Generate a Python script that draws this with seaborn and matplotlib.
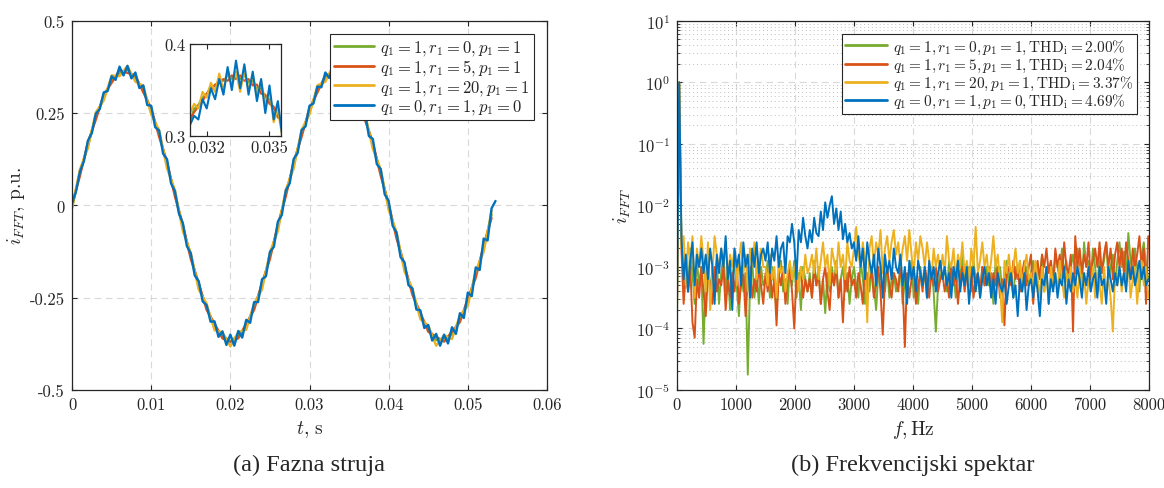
import numpy as np
import matplotlib
matplotlib.use("Agg")
import matplotlib.pyplot as plt
import seaborn as sns
from matplotlib.ticker import FixedLocator, FixedFormatter, LogLocator, NullFormatter

# --- (a) fazna struja, ocitano sa slike ---
dt_fine = 0.0005     # korak za plavu krivu
dt_coarse = 0.001    # korak za ostale krive

i_blue = [0.005, 0.038, 0.092, 0.120, 0.175, 0.196, 0.248, 0.261, 0.306, 0.310,
          0.350, 0.340, 0.376, 0.352, 0.378, 0.344, 0.360, 0.318, 0.325, 0.272,
          0.270, 0.212, 0.203, 0.140, 0.125, 0.060, 0.038, -0.022, -0.048, -0.110,
          -0.130, -0.190, -0.205, -0.260, -0.270, -0.315, -0.314, -0.356, -0.341, -0.378,
          -0.350, -0.380, -0.340, -0.358, -0.310, -0.318, -0.262, -0.262, -0.200, -0.192,
          -0.126, -0.112, -0.044, -0.026, 0.040, 0.060, 0.126, 0.142, 0.204, 0.214,
          0.270, 0.276, 0.322, 0.320, 0.360, 0.345, 0.380, 0.350, 0.376, 0.336,
          0.350, 0.302, 0.310, 0.252, 0.252, 0.188, 0.180, 0.112, 0.098, 0.030,
          0.012, -0.055, -0.074, -0.140, -0.154, -0.216, -0.225, -0.282, -0.284, -0.332,
          -0.324, -0.366, -0.348, -0.380, -0.350, -0.374, -0.330, -0.348, -0.292, -0.305,
          -0.236, -0.246, -0.168, -0.175, -0.090, -0.095, -0.008, 0.012]

i_green = [-0.008, 0.090, 0.162, 0.241, 0.291, 0.341, 0.357, 0.368, 0.343, 0.315,
           0.254, 0.195, 0.109, 0.033, -0.061, -0.136, -0.219, -0.274, -0.329, -0.351,
           -0.369, -0.351, -0.329, -0.274, -0.219, -0.136, -0.061, 0.033, 0.109, 0.195,
           0.254, 0.315, 0.343, 0.368, 0.357, 0.341, 0.291, 0.241, 0.162, 0.090,
           -0.004, -0.081, -0.170, -0.233, -0.299, -0.333, -0.365, -0.360, -0.351, -0.307,
           -0.262, -0.187, -0.117, -0.025]

i_red = [0.004, 0.080, 0.171, 0.232, 0.300, 0.332, 0.366, 0.359, 0.352, 0.306,
         0.263, 0.186, 0.118, 0.024, -0.052, -0.145, -0.210, -0.283, -0.320, -0.360,
         -0.370, -0.360, -0.320, -0.283, -0.210, -0.145, -0.052, 0.024, 0.118, 0.186,
         0.263, 0.306, 0.352, 0.359, 0.366, 0.332, 0.300, 0.232, 0.171, 0.080,
         0.005, -0.090, -0.161, -0.242, -0.290, -0.342, -0.356, -0.369, -0.342, -0.316,
         -0.253, -0.196, -0.108, -0.034]

i_yellow = [-0.005, 0.098, 0.155, 0.252, 0.284, 0.352, 0.350, 0.378, 0.335, 0.324,
            0.246, 0.204, 0.100, 0.042, -0.070, -0.128, -0.228, -0.266, -0.338, -0.344,
            -0.382, -0.343, -0.337, -0.266, -0.228, -0.127, -0.070, 0.042, 0.100, 0.205,
            0.246, 0.325, 0.335, 0.380, 0.349, 0.350, 0.283, 0.250, 0.153, 0.098,
            -0.012, -0.072, -0.179, -0.225, -0.308, -0.325, -0.380, -0.352, -0.362, -0.298,
            -0.272, -0.177, -0.126, -0.015]

# uvecani detalj (inset)
inset_t0 = 0.0312
inset_dt = 0.0002
in_green = [0.316, 0.330, 0.334, 0.342, 0.346, 0.354, 0.354, 0.361, 0.360, 0.366, 0.362, 0.367,
            0.362, 0.366, 0.358, 0.360, 0.350, 0.352, 0.342, 0.340, 0.330, 0.325, 0.312]
in_red = [0.318, 0.326, 0.332, 0.338, 0.346, 0.350, 0.356, 0.358, 0.362, 0.360, 0.366, 0.362,
          0.366, 0.360, 0.362, 0.355, 0.356, 0.346, 0.345, 0.335, 0.332, 0.320, 0.318]
in_yellow = [0.325, 0.335, 0.330, 0.348, 0.342, 0.358, 0.348, 0.368, 0.350, 0.372, 0.355, 0.370,
             0.348, 0.372, 0.350, 0.366, 0.345, 0.360, 0.335, 0.350, 0.315, 0.330, 0.300]
in_blue = [0.312, 0.322, 0.318, 0.340, 0.330, 0.352, 0.340, 0.362, 0.345, 0.375, 0.350, 0.382,
           0.352, 0.378, 0.345, 0.370, 0.338, 0.362, 0.325, 0.355, 0.318, 0.338, 0.302]

# --- (b) spektar, log10 amplitude po binovima od 37.5 Hz ---
bin_hz = 37.5

s_green = [
    -4.0, 0.0, -2.5, -3.3, -2.8, -3.4, -2.7, -3.1, -3.6, -2.9, -3.3, -3.0, -4.25, -3.2, -2.8, -3.5, -3.0, -3.3, -2.9, -3.6,
    -3.1, -2.8, -3.4, -3.0, -3.7, -3.2, -2.9, -3.3, -3.8, -3.0, -3.4, -3.1, -4.75, -3.3, -2.9, -3.5, -3.1, -3.6, -3.0, -3.3,
    -3.2, -2.9, -3.5, -3.0, -3.3, -3.7, -3.1, -2.9, -3.4, -3.2, -3.6, -3.0, -3.3, -2.9, -3.5, -3.1, -3.7, -3.0, -3.2, -3.4,
    -3.1, -3.5, -2.9, -3.3, -3.0, -3.6, -3.2, -3.75, -3.1, -3.4, -3.0, -3.3, -2.9, -3.5, -3.2, -3.0, -3.4, -3.1, -3.6, -3.2,
    -3.0, -3.3, -3.5, -2.9, -3.2, -3.6, -3.1, -3.4, -3.0, -3.3, -3.7, -3.1, -3.2, -2.9, -3.4, -3.0, -3.5, -3.2, -3.1, -3.4,
    -3.3, -3.0, -3.6, -3.2, -3.4, -3.1, -2.9, -3.5, -3.2, -3.6, -3.0, -3.3, -3.1, -3.5, -3.2, -3.0, -3.4, -4.05, -3.3, -3.1,
    -3.2, -3.0, -3.4, -2.9, -3.3, -3.1, -3.5, -3.0, -3.2, -2.8, -3.3, -3.1, -3.0, -3.4, -2.9, -3.2, -3.1, -3.5, -3.0, -3.3,
    -3.0, -3.3, -3.1, -3.6, -2.9, -3.2, -3.0, -3.4, -3.2, -2.9, -3.3, -3.1, -3.5, -3.0, -3.2, -2.9, -3.4, -3.1, -3.0, -3.3,
    -3.1, -2.9, -3.3, -3.0, -3.2, -2.8, -3.4, -3.0, -3.1, -2.9, -3.3, -2.8, -3.0, -3.2, -2.7, -3.1, -2.9, -3.3, -3.0, -2.8,
    -3.1, -2.7, -3.0, -3.3, -2.6, -3.0, -2.9, -3.2, -2.7, -3.0, -3.4, -2.8, -3.1, -2.9, -2.6, -3.2, -3.0, -2.8, -3.3, -2.9,
    -2.6, -3.0, -2.75, -3.2, -2.45, -2.9, -3.1, -2.7, -3.0, -3.4, -2.8, -2.6, -3.0, -3.2]

s_red = [
    -3.7, 0.0, -2.7, -3.6, -3.1, -3.4, -3.0, -3.9, -4.15, -3.2, -3.5, -3.0, -3.4, -3.8, -3.1, -3.3, -3.6, -3.0, -3.4, -3.2,
    -3.3, -3.0, -3.7, -3.2, -3.5, -3.1, -3.4, -3.0, -3.6, -3.3, -3.1, -3.8, -3.2, -3.0, -3.5, -3.2, -3.4, -3.0, -3.3, -3.6,
    -3.1, -3.4, -3.0, -3.5, -3.2, -3.95, -3.1, -3.3, -3.0, -3.6, -3.2, -3.0, -3.4, -4.0, -3.1, -3.3, -3.0, -3.5, -3.2, -3.4,
    -3.2, -3.5, -3.0, -3.3, -3.1, -3.6, -3.2, -3.0, -3.4, -3.7, -3.1, -3.3, -3.0, -3.5, -3.2, -3.9, -3.1, -3.4, -3.0, -3.3,
    -3.2, -3.5, -3.1, -3.3, -3.6, -3.0, -3.4, -3.2, -3.1, -3.5, -3.3, -3.0, -3.4, -4.1, -3.2, -3.0, -3.3, -3.5, -3.1, -3.2,
    -3.4, -3.0, -3.3, -4.3, -3.1, -3.5, -3.2, -3.0, -3.6, -3.3, -3.1, -3.4, -3.0, -3.2, -3.5, -3.1, -3.3, -3.0, -3.4, -3.2,
    -3.1, -3.4, -3.2, -3.5, -3.0, -3.3, -3.1, -3.6, -3.2, -3.0, -3.4, -3.1, -3.3, -3.0, -3.5, -3.2, -3.1, -3.4, -3.0, -3.3,
    -3.2, -3.0, -3.4, -3.1, -3.3, -3.0, -3.5, -3.2, -3.95, -3.1, -3.0, -3.3, -2.9, -3.2, -3.0, -3.4, -3.1, -2.9, -3.3, -3.0,
    -2.8, -3.6, -3.1, -2.9, -3.2, -2.8, -3.0, -2.7, -3.1, -2.9, -3.3, -2.7, -3.0, -2.8, -3.2, -2.6, -3.0, -3.1, -2.8, -4.05,
    -2.5, -3.0, -2.7, -3.1, -2.8, -3.0, -2.6, -3.2, -2.9, -2.7, -3.0, -2.6, -3.1, -2.8, -2.6, -3.0, -2.7, -3.2, -2.8, -2.6,
    -3.0, -2.7, -3.1, -2.6, -2.9, -3.2, -2.7, -3.0, -2.8, -2.5, -3.0, -2.7, -3.6, -2.5]

s_yellow = [
    -3.6, 0.0, -2.7, -2.5, -3.3, -2.6, -2.9, -2.5, -3.5, -2.7, -3.0, -2.5, -2.9, -3.4, -2.6, -3.7, -3.1, -2.5, -2.8, -3.0,
    -2.7, -3.0, -2.6, -3.2, -2.8, -3.0, -2.7, -3.3, -2.9, -2.6, -3.1, -2.8, -3.4, -2.7, -3.0, -2.6, -3.2, -2.9, -2.7, -3.0,
    -3.0, -3.3, -2.8, -3.2, -3.0, -3.5, -2.9, -3.1, -3.0, -3.4, -3.1, -2.9, -3.2, -3.0, -2.9, -3.4, -3.0, -3.2, -2.8, -3.1,
    -3.0, -2.8, -3.1, -2.7, -3.2, -2.9, -2.6, -3.0, -2.8, -3.3, -2.7, -2.9, -3.1, -2.6, -3.0, -2.8, -3.2, -2.6, -2.9, -3.0,
    -2.7, -2.35, -2.8, -3.0, -2.6, -2.9, -3.9, -2.7, -2.5, -3.0, -2.6, -2.8, -2.4, -3.1, -2.7, -2.5, -2.9, -2.6, -2.4, -2.8,
    -2.6, -3.0, -2.7, -2.5, -2.9, -2.4, -2.8, -3.1, -2.6, -2.9, -2.5, -2.7, -3.0, -2.6, -2.9, -3.2, -2.7, -3.0, -2.8, -3.1,
    -2.8, -3.1, -2.5, -2.9, -3.0, -2.7, -3.2, -2.8, -3.0, -2.6, -3.1, -2.9, -3.3, -2.7, -3.0, -2.35, -3.1, -2.9, -2.6, -3.0,
    -2.8, -3.2, -2.9, -2.5, -3.0, -2.8, -3.3, -3.9, -2.9, -3.1, -2.8, -3.2, -3.0, -2.7, -3.1, -2.9, -3.3, -3.0, -2.8, -3.2,
    -3.1, -3.3, -2.9, -3.2, -3.5, -3.0, -3.4, -3.1, -3.6, -3.0, -3.3, -3.1, -3.4, -2.9, -3.2, -3.5, -3.1, -3.3, -3.0, -3.4,
    -3.2, -3.5, -3.0, -3.3, -3.1, -3.6, -3.2, -3.4, -3.0, -3.5, -3.1, -3.3, -3.6, -3.0, -3.4, -3.2, -3.5, -4.05, -3.1, -3.3,
    -3.0, -3.4, -3.1, -3.3, -2.9, -3.5, -3.2, -3.0, -3.6, -3.1, -2.9, -3.3, -3.0, -3.5]

s_blue = [
    -3.55, 0.0, -2.5, -3.2, -2.8, -3.4, -2.9, -2.6, -3.3, -2.8, -3.0, -2.7, -3.1, -2.8, -3.2, -2.7, -3.0, -3.6, -2.8, -3.1,
    -2.7, -3.0, -2.5, -3.2, -2.9, -3.7, -2.7, -3.0, -2.8, -3.3, -2.6, -3.0, -2.8, -3.5, -2.7, -3.0, -2.6, -3.1, -2.8, -2.7,
    -2.9, -2.6, -3.1, -2.7, -2.9, -2.5, -3.0, -2.7, -2.6, -3.1, -2.5, -2.6, -2.3, -2.6, -3.2, -2.4, -2.6, -2.2, -2.5, -2.7,
    -2.4, -2.6, -2.2, -2.45, -2.5, -2.1, -2.4, -1.95, -2.2, -2.0, -1.85, -2.3, -2.05, -2.4, -2.1, -2.55, -2.3, -2.6, -2.45, -2.7,
    -2.6, -2.9, -2.5, -3.0, -2.7, -3.2, -2.6, -2.9, -3.1, -2.8, -3.3, -2.7, -3.0, -3.5, -2.8, -3.1, -2.9, -3.2, -2.7, -3.0,
    -3.1, -2.8, -3.3, -3.0, -3.6, -2.9, -3.2, -3.0, -3.4, -2.9, -3.1, -3.3, -3.0, -3.5, -2.9, -3.2, -3.0, -3.4, -3.1, -2.9,
    -3.2, -3.0, -3.3, -3.1, -3.5, -3.0, -3.2, -2.9, -3.4, -3.1, -3.3, -3.0, -3.6, -3.2, -3.0, -3.4, -3.1, -3.5, -3.2, -3.0,
    -3.3, -3.1, -3.5, -3.2, -3.6, -3.1, -3.3, -3.4, -3.2, -3.6, -3.3, -3.1, -3.5, -3.3, -3.8, -3.2, -3.4, -3.1, -3.7, -3.3,
    -3.2, -3.5, -3.1, -3.4, -3.8, -3.2, -3.3, -3.0, -3.6, -3.2, -3.4, -3.1, -3.5, -3.2, -3.3, -3.0, -3.6, -3.2, -3.4, -3.1,
    -3.3, -3.0, -3.2, -3.5, -3.1, -3.3, -3.0, -3.4, -3.2, -3.1, -3.5, -3.0, -3.3, -3.2, -3.6, -3.0, -3.2, -3.4, -3.1, -3.3,
    -3.0, -3.3, -3.1, -3.4, -2.9, -3.2, -3.0, -3.3, -3.1, -2.9, -3.2, -3.0, -3.3, -3.2]

params = [r'q_1 = 1, r_1 = 0, p_1 = 1', r'q_1 = 1, r_1 = 5, p_1 = 1',
          r'q_1 = 1, r_1 = 20, p_1 = 1', r'q_1 = 0, r_1 = 1, p_1 = 0']
thd = ['2.00', '2.04', '3.37', '4.69']
colors = ['#77AC30', '#D95319', '#EDB120', '#0072BD']

# --- stil ---
sns.set_style('ticks')
plt.rcParams.update({
    'font.family': 'serif',
    'font.serif': ['cmr10', 'DejaVu Serif'],
    'mathtext.fontset': 'cm',
    'axes.unicode_minus': False,
    'axes.formatter.use_mathtext': True,
    'xtick.direction': 'in', 'ytick.direction': 'in',
    'xtick.top': True, 'ytick.right': True,
    'axes.edgecolor': '#262626', 'axes.linewidth': 0.9,
    'xtick.color': '#262626', 'ytick.color': '#262626',
    'xtick.labelsize': 12, 'ytick.labelsize': 12,
    'xtick.major.pad': 5, 'ytick.major.pad': 5,
})

fig = plt.figure(figsize=(11.64, 4.89), dpi=100)
ax1 = fig.add_axes([0.0619, 0.2004, 0.408, 0.755])
ax2 = fig.add_axes([0.5816, 0.2004, 0.4055, 0.755])

series_a = [i_green, i_red, i_yellow, i_blue]
steps_a = [dt_coarse, dt_coarse, dt_coarse, dt_fine]
for vals, step, col, lab in zip(series_a, steps_a, colors, params):
    t = np.arange(len(vals)) * step
    sns.lineplot(x=t, y=vals, ax=ax1, color=col, lw=1.7, label='$' + lab + '$',
                 estimator=None, sort=False)

ax1.set_xlim(0, 0.06)
ax1.set_ylim(-0.5, 0.5)
ax1.xaxis.set_major_locator(FixedLocator([0, 0.01, 0.02, 0.03, 0.04, 0.05, 0.06]))
ax1.xaxis.set_major_formatter(FixedFormatter(['0', '0.01', '0.02', '0.03', '0.04', '0.05', '0.06']))
ax1.yaxis.set_major_locator(FixedLocator([-0.5, -0.25, 0, 0.25, 0.5]))
ax1.yaxis.set_major_formatter(FixedFormatter(['-0.5', '-0.25', '0', '0.25', '0.5']))
ax1.grid(True, ls=(0, (6, 4)), color='#d9d9d9', lw=0.8)
ax1.set_xlabel(r'$t$, s', fontsize=14, labelpad=4)
ax1.set_ylabel(r'$i_{FFT}$, p.u.', fontsize=14, labelpad=2)
for s in ax1.spines.values():
    s.set_visible(True)
leg1 = ax1.legend(loc='upper right', bbox_to_anchor=(0.9726, 0.9648), borderaxespad=0,
                  fontsize=12, frameon=True, fancybox=False, framealpha=1,
                  edgecolor='#262626', handlelength=2.4, handletextpad=0.4,
                  labelspacing=0.02, borderpad=0.25)
leg1.get_frame().set_linewidth(0.8)
for h in leg1.get_lines():
    h.set_linewidth(2)

# inset
axi = fig.add_axes([0.1632, 0.7198, 0.0782, 0.188])
for vals, col in zip([in_green, in_red, in_yellow, in_blue], colors):
    t = inset_t0 + np.arange(len(vals)) * inset_dt
    sns.lineplot(x=t, y=vals, ax=axi, color=col, lw=1.5, estimator=None, sort=False)
axi.set_xlim(0.0312, 0.03555)
axi.set_ylim(0.3, 0.4)
axi.xaxis.set_major_locator(FixedLocator([0.032, 0.035]))
axi.xaxis.set_major_formatter(FixedFormatter(['0.032', '0.035']))
axi.yaxis.set_major_locator(FixedLocator([0.3, 0.4]))
axi.yaxis.set_major_formatter(FixedFormatter(['0.3', '0.4']))
axi.tick_params(labelsize=12, pad=3)
for s in axi.spines.values():
    s.set_visible(True)

# spektar
series_b = [s_green, s_red, s_yellow, s_blue]
for vals, col, lab, th in zip(series_b, colors, params, thd):
    f = np.arange(len(vals)) * bin_hz
    amp = 10.0 ** np.array(vals)
    sns.lineplot(x=f, y=amp, ax=ax2, color=col, lw=1.4,
                 label='$' + lab + r',\mathrm{THD}_\mathrm{i} = ' + th + r'\%$',
                 estimator=None, sort=False)
ax2.set_yscale('log')
ax2.set_xlim(0, 8000)
ax2.set_ylim(1e-5, 1e1)
ax2.xaxis.set_major_locator(FixedLocator(list(range(0, 8001, 1000))))
ax2.xaxis.set_major_formatter(FixedFormatter([str(v) for v in range(0, 8001, 1000)]))
ax2.yaxis.set_major_locator(LogLocator(base=10, numticks=10))
ax2.yaxis.set_minor_locator(LogLocator(base=10, subs=np.arange(2, 10), numticks=100))
ax2.yaxis.set_minor_formatter(NullFormatter())
ax2.grid(True, which='major', ls=(0, (6, 4)), color='#d9d9d9', lw=0.8)
ax2.grid(True, which='minor', axis='y', ls=(0, (1, 3)), color='#bfbfbf', lw=0.7)
ax2.set_xlabel(r'$f,\mathrm{Hz}$', fontsize=14, labelpad=4)
ax2.set_ylabel(r'$i_{FFT}$', fontsize=14, labelpad=2)
for s in ax2.spines.values():
    s.set_visible(True)
leg2 = ax2.legend(loc='upper right', bbox_to_anchor=(0.9746, 0.9648), borderaxespad=0,
                  fontsize=11, frameon=True, fancybox=False, framealpha=1,
                  edgecolor='#262626', handlelength=2.7, handletextpad=0.4,
                  labelspacing=0.0, borderpad=0.25)
leg2.get_frame().set_linewidth(0.8)
for h in leg2.get_lines():
    h.set_linewidth(2)

fig.text(0.2658, 0.048, '(a) Fazna struja', ha='center', va='center',
         fontsize=17.5, family='Liberation Serif')
fig.text(0.7844, 0.048, '(b) Frekvencijski spektar', ha='center', va='center',
         fontsize=17.5, family='Liberation Serif')

fig.savefig('out.png', dpi=100)
